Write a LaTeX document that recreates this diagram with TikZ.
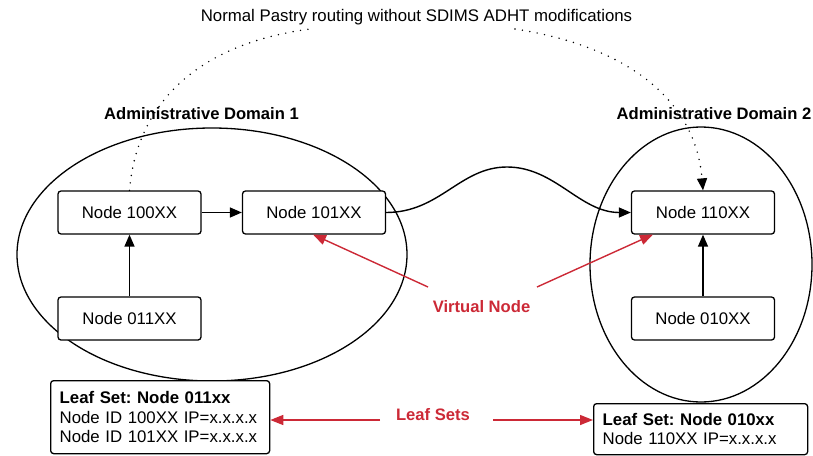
\documentclass[tikz,border=0pt]{standalone}
\usepackage{fontspec}
\setmainfont{Liberation Sans}
\usetikzlibrary{arrows.meta,shapes.geometric}
\definecolor{vnred}{RGB}{204,41,54}
\frenchspacing
\begin{document}
\begin{tikzpicture}[x=1pt,y=-1pt,
  font=\fontsize{16.8}{19.5}\selectfont,
  peer/.style={draw,line width=1.3pt,rounded corners=3pt,minimum width=143pt,
    minimum height=43pt,inner sep=0pt,fill=white},
  adomain/.style={draw,ellipse,line width=1.3pt,inner sep=0pt},
  domainlabel/.style={font=\fontsize{16.6}{19.5}\selectfont\bfseries},
  link/.style={line width=1.4pt,-{Triangle[length=12pt,width=10pt]}},
  dotline/.style={line width=1.6pt,line cap=round,dash pattern=on 0pt off 7.5pt},
  pointer/.style={draw=vnred,line width=1.4pt,-{Triangle[length=13pt,width=10pt]}},
  redlabel/.style={text=vnred,font=\fontsize{16.6}{19.5}\selectfont\bfseries},
  leafbox/.style={draw,line width=1.3pt,rounded corners=3pt,fill=white,align=left,
    anchor=north west,inner xsep=9pt,inner ysep=0pt}]
\useasboundingbox (0,0) rectangle (813,455);

% administrative domains
\node[adomain,minimum width=390pt,minimum height=253pt] (dom1) at (212,254.5) {};
\node[adomain,minimum width=222pt,minimum height=275pt] (dom2) at (701,264.5) {};
\node[domainlabel] (lab1) at (201.5,114) {Administrative Domain 1};
\node[domainlabel] (lab2) at (714,114) {Administrative Domain 2};

% title of the plain Pastry route
\node (title) at (416.5,17) {Normal Pastry routing without SDIMS ADHT modifications};
\coordinate (tl) at (310,29);
\coordinate (tr) at (515,29);

% overlay nodes
\node[peer] (n100) at (129.5,212.5) {Node 100XX};
\node[peer] (n101) at (314,212.5) {Node 101XX};
\node[peer] (n011) at (129.5,318.5) {Node 011XX};
\node[peer] (n110) at (703,212.5) {Node 110XX};
\node[peer] (n010) at (703,318.5) {Node 010XX};

% routing hops
\draw[link] (n011) -- (n100);
\draw[link] (n100) -- (n101);
\draw[link] (n010) -- (n110);
\draw[link] (n101.east) .. controls (440,212.5) and (460,167) .. (507,167)
  .. controls (555,167) and (580,212.5) .. (n110.west);

% plain Pastry route
\draw[dotline] (n100.north) .. controls (136,110) and (190,45) .. (tl);
\draw[dotline,-{Triangle[length=12pt,width=10pt]}] (tr) .. controls (620,45) and (695,95) .. (n110.north);

% virtual node callouts
\node[redlabel] (vn) at (481.5,307) {Virtual Node};
\coordinate (vnl) at (428,287);
\coordinate (vnr) at (537,287);
\draw[pointer] (vnl) -- (313,234.5);
\draw[pointer] (vnr) -- (653,234.5);

% leaf sets
\node[leafbox,text width=201pt,minimum height=73pt] (leaf1) at (50,380)
  {\textbf{Leaf Set: Node 011xx}\\Node ID 100XX IP=x.x.x.x\\Node ID 101XX IP=x.x.x.x};
\node[leafbox,text width=196pt,minimum height=51pt] (leaf2) at (593,403)
  {\textbf{Leaf Set: Node 010xx}\\Node 110XX IP=x.x.x.x};
\node[redlabel] (ls) at (433,415) {Leaf Sets};
\coordinate (lsl) at (380,420);
\coordinate (lsr) at (493,420);
\draw[pointer] (lsl) -- (leaf1.east |- lsl);
\draw[pointer] (lsr) -- (leaf2.west |- lsr);
\end{tikzpicture}
\end{document}
